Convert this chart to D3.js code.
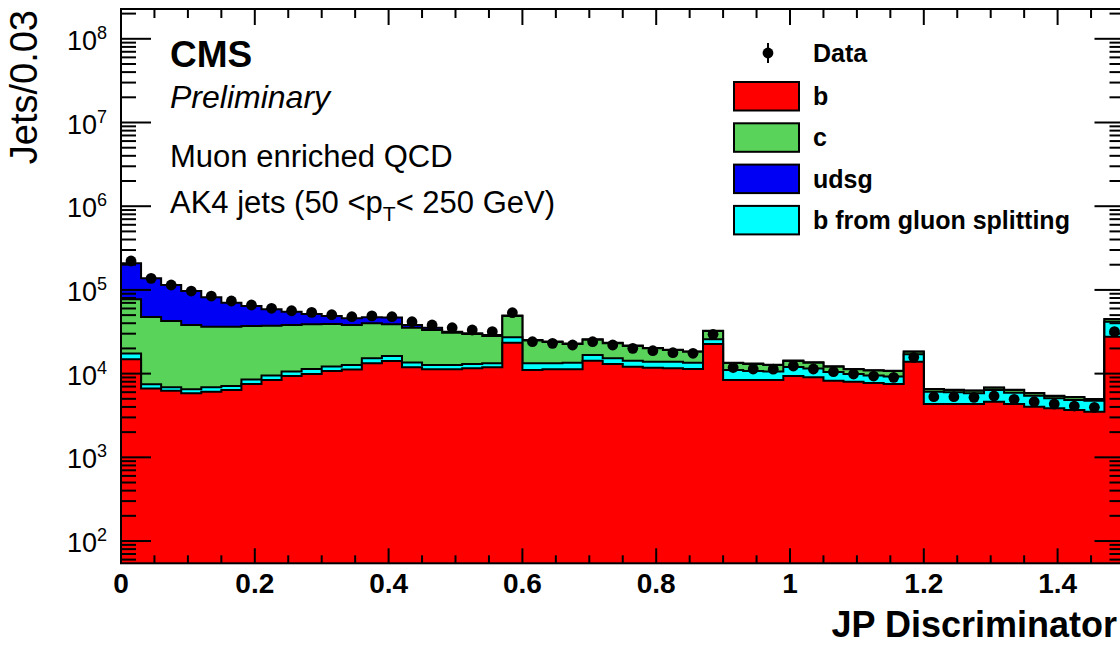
<!DOCTYPE html>
<html>
<head>
<meta charset="utf-8">
<script src="https://cdn.jsdelivr.net/npm/d3@7"></script>
<style>
  body { margin: 0; background: #fff; }
  text { font-family: "Liberation Sans", Arial, Helvetica, sans-serif; }
</style>
</head>
<body>
<div id="chart"></div>
<script>
// JP discriminator, bins of 0.03 from 0 to 1.5
const binWidth = 0.03
const bValues = [14800, 6640, 6250, 5820, 6080, 6370, 7510, 8390, 9360, 9890,
  10740, 11190, 13280, 14150, 11890, 11250, 11250, 11570, 11890, 23390,
  11040, 11250, 11250, 14260, 13030, 12090, 11770, 11570, 11350, 22580,
  8390, 8390, 8390, 9360, 9030, 8230, 8000, 7720, 7510, 13870,
  4335, 4335, 4335, 4620, 4335, 4025, 3850, 3675, 3510, 27600]
const bGluonValues = [2600, 830, 610, 670, 780, 740, 990, 1100, 1230, 1460,
  1420, 1480, 1950, 2080, 1680, 1420, 1420, 1460, 1390, 3760,
  2240, 2030, 2240, 2420, 2200, 2170, 2100, 2300, 2140, 3110,
  2650, 2350, 2200, 2630, 2480, 2220, 1890, 1770, 1720, 3140,
  1745, 1645, 1485, 1750, 1575, 1425, 1220, 1165, 1235, 14100]
const cValues = [59800, 40000, 35600, 31600, 29400, 29200, 28600, 27900, 27500, 27500,
  27000, 25400, 24700, 22600, 21800, 20500, 18200, 16700, 14850, 21630,
  11570, 10590, 9090, 8740, 7780, 7100, 6190, 5270, 4780, 6590,
  2340, 2290, 2080, 2160, 1980, 1640, 1360, 1400, 1510, 1260,
  410, 390, 430, 420, 460, 370, 330, 370, 185, 2850]
const udsgValues = [130800, 90100, 72000, 58900, 45300, 34000, 27100, 21200, 16800, 12700,
  9600, 7700, 7190, 8000, 2770, 2140, 860, 570, 780, 650,
  340, 330, 300, 340, 300, 260, 160, 160, 150, 280,
  150, 140, 130, 180, 140, 120, 100, 80, 80, 150,
  70, 60, 50, 60, 60, 50, 50, 50, 40, 450]
const dataValues = [221500, 137600, 114500, 97000, 84500, 73700, 66000, 60300, 56400, 54000,
  50500, 47860, 49000, 47860, 41700, 38100, 35330, 33190, 31690, 53430,
  24050, 23010, 21970, 24050, 21970, 20060, 18780, 17780, 17490, 29490,
  11830, 11350, 11300, 12330, 11350, 10540, 9890, 9360, 9030, 15660,
  5300, 5300, 5210, 5400, 4930, 4620, 4335, 4100, 3955, 31690]

const xTickValues = [0, 0.2, 0.4, 0.6, 0.8, 1, 1.2, 1.4]
const xTickLabels = ['0', '0.2', '0.4', '0.6', '0.8', '1', '1.2', '1.4']
const yTickPowers = [2, 3, 4, 5, 6, 7, 8]

const stackKeys = ['b', 'bGluon', 'c', 'udsg']
const legendLabels = ['b', 'c', 'udsg', 'b from gluon splitting']
const legendKeys = ['b', 'c', 'udsg', 'bGluon']
const colors = { b: '#ff0000', bGluon: '#00ffff', c: '#5ad35a', udsg: '#0000f5' }

let width = 1120
let height = 646

let svg = d3
  .select('#chart')
  .append('svg')
  .attr('width', width)
  .attr('height', height)

let plotLeft = 121
let plotRight = 1124.5
let plotTop = 9
let plotBottom = 563.3

let x = d3.scaleLinear().domain([0, 1.5]).range([plotLeft, plotRight])
let y = d3.scaleLog().domain([54.2, 2.27e8]).range([plotBottom, plotTop])

let table = bValues.map((v, i) => ({
  lo: i * binWidth,
  b: v,
  bGluon: bGluonValues[i],
  c: cValues[i],
  udsg: udsgValues[i]
}))

let stacked = d3.stack().keys(stackKeys)(table)

svg.append('clipPath')
  .attr('id', 'plot-clip')
  .append('rect')
  .attr('x', plotLeft)
  .attr('y', plotTop)
  .attr('width', plotRight - plotLeft)
  .attr('height', plotBottom - plotTop)

let plot = svg.append('g').attr('clip-path', 'url(#plot-clip)')

let area = d3.area()
  .x(d => x(d[0]))
  .y0(plotBottom)
  .y1(d => y(d[1]))
  .curve(d3.curveStepAfter)

let line = d3.line()
  .x(d => x(d[0]))
  .y(d => y(d[1]))
  .curve(d3.curveStepAfter)

// draw cumulative histograms from the top one down, like a THStack
stacked.slice().reverse().forEach(layer => {
  let pts = layer.map((d, i) => [table[i].lo, d[1]])
  pts.push([table.length * binWidth, layer[layer.length - 1][1]])

  plot.append('path')
    .attr('d', area(pts))
    .attr('fill', colors[layer.key])

  plot.append('path')
    .attr('d', line(pts))
    .attr('fill', 'none')
    .attr('stroke', 'black')
    .attr('stroke-width', 2)
})

// data points
let points = plot.selectAll('.data-point')
  .data(dataValues)
  .enter()
  .append('g')
  .attr('class', 'data-point')

points.append('line')
  .attr('x1', (d, i) => x(i * binWidth + binWidth / 2))
  .attr('x2', (d, i) => x(i * binWidth + binWidth / 2))
  .attr('y1', d => y(d + Math.sqrt(d)))
  .attr('y2', d => y(d - Math.sqrt(d)))
  .attr('stroke', 'black')
  .attr('stroke-width', 2)

points.append('circle')
  .attr('cx', (d, i) => x(i * binWidth + binWidth / 2))
  .attr('cy', d => y(d))
  .attr('r', 5.4)
  .attr('fill', 'black')

// frame
svg.append('rect')
  .attr('x', plotLeft)
  .attr('y', plotTop)
  .attr('width', plotRight - plotLeft)
  .attr('height', plotBottom - plotTop)
  .attr('fill', 'none')
  .attr('stroke', 'black')
  .attr('stroke-width', 2)

let axes = svg.append('g').attr('stroke', 'black').attr('stroke-width', 2)

// x ticks (major every 0.2, minor every 0.05), bottom and top
let xMinor = d3.range(0, 1.5001, 0.05).map(v => Math.round(v * 100) / 100)
xMinor.forEach(v => {
  let major = xTickValues.some(t => Math.abs(t - v) < 1e-6)
  let len = major ? 15 : 8
  axes.append('line')
    .attr('x1', x(v)).attr('x2', x(v))
    .attr('y1', plotBottom).attr('y2', plotBottom - len)
  axes.append('line')
    .attr('x1', x(v)).attr('x2', x(v))
    .attr('y1', plotTop).attr('y2', plotTop + len + 1)
})

// y ticks (log), left and right
let yDomain = y.domain()
let yAll = []
d3.range(1, 9).forEach(p => {
  d3.range(1, 10).forEach(k => {
    let v = k * Math.pow(10, p)
    if (v >= yDomain[0] && v <= yDomain[1]) yAll.push({ v: v, major: k === 1 })
  })
})
yAll.forEach(t => {
  let len = t.major ? 30 : 15
  axes.append('line')
    .attr('x1', plotLeft).attr('x2', plotLeft + len)
    .attr('y1', y(t.v)).attr('y2', y(t.v))
  axes.append('line')
    .attr('x1', plotRight).attr('x2', plotRight - len)
    .attr('y1', y(t.v)).attr('y2', y(t.v))
})

// x tick labels
svg.selectAll('.x-label')
  .data(xTickValues)
  .enter()
  .append('text')
  .attr('class', 'x-label')
  .attr('x', d => x(d))
  .attr('y', 593)
  .attr('text-anchor', 'middle')
  .attr('font-size', 28)
  .attr('font-weight', 'bold')
  .text((d, i) => xTickLabels[i])

// y tick labels 10^n
let yLabels = svg.selectAll('.y-label')
  .data(yTickPowers)
  .enter()
  .append('text')
  .attr('class', 'y-label')
  .attr('x', 107)
  .attr('y', d => y(Math.pow(10, d)) + 11)
  .attr('text-anchor', 'end')
  .attr('font-size', 27)

yLabels.append('tspan').text('10')
yLabels.append('tspan')
  .attr('dy', -11)
  .attr('font-size', 18)
  .text(d => d)

// axis titles
svg.append('text')
  .text('JP Discriminator')
  .attr('x', 1117)
  .attr('y', 637)
  .attr('text-anchor', 'end')
  .attr('font-size', 36)
  .attr('font-weight', 'bold')

svg.append('text')
  .text('Jets/0.03')
  .attr('transform', 'translate(37, 10) rotate(-90)')
  .attr('text-anchor', 'end')
  .attr('font-size', 38)

// CMS labels
svg.append('text')
  .text('CMS')
  .attr('x', 170)
  .attr('y', 67)
  .attr('font-size', 37)
  .attr('font-weight', 'bold')

svg.append('text')
  .text('Preliminary')
  .attr('x', 170)
  .attr('y', 108)
  .attr('font-size', 32)
  .attr('font-style', 'italic')

svg.append('text')
  .text('Muon enriched QCD')
  .attr('x', 170)
  .attr('y', 167)
  .attr('font-size', 31)

let ak4 = svg.append('text')
  .attr('x', 170)
  .attr('y', 213)
  .attr('font-size', 31)
ak4.append('tspan').text('AK4 jets (50 <p')
ak4.append('tspan').attr('dy', 8).attr('font-size', 21).text('T')
ak4.append('tspan').attr('dy', -8).text('< 250 GeV)')

// legend
let legend = svg.append('g').attr('transform', 'translate(734, 0)')

legend.append('line')
  .attr('x1', 34).attr('x2', 34)
  .attr('y1', 43).attr('y2', 63)
  .attr('stroke', 'black')
  .attr('stroke-width', 2)
legend.append('circle')
  .attr('cx', 34).attr('cy', 53).attr('r', 5.4)
  .attr('fill', 'black')
legend.append('text')
  .text('Data')
  .attr('x', 79)
  .attr('y', 62)
  .attr('font-size', 25)
  .attr('font-weight', 'bold')

legend.selectAll('.legend-entry')
  .data(legendKeys)
  .enter()
  .append('g')
  .attr('class', 'legend-entry')
  .attr('transform', (d, i) => `translate(0, ${82 + i * 41.3})`)
  .each(function(d, i) {
    let g = d3.select(this)
    g.append('rect')
      .attr('x', 0)
      .attr('y', 0)
      .attr('width', 65)
      .attr('height', 28.5)
      .attr('fill', colors[d])
      .attr('stroke', 'black')
      .attr('stroke-width', 2)
    g.append('text')
      .text(legendLabels[i])
      .attr('x', 79)
      .attr('y', 23)
      .attr('font-size', 25)
      .attr('font-weight', 'bold')
  })
</script>
</body>
</html>
